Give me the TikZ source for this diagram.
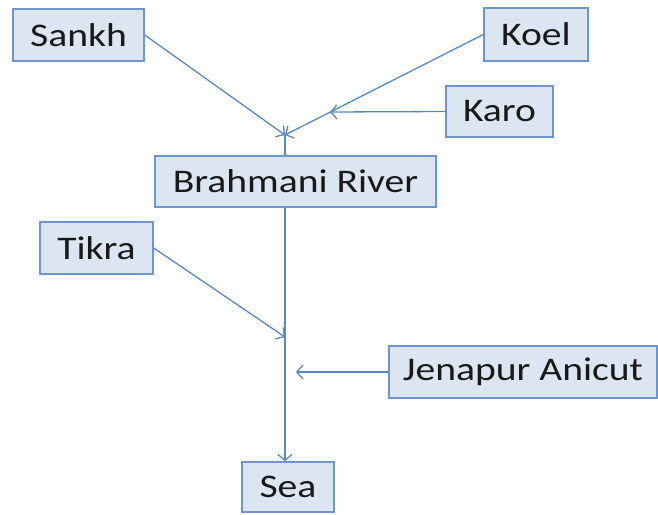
\documentclass[tikz,border=0pt]{standalone}
\usepackage{fontspec}
\setmainfont{Carlito}[FakeStretch=1.2]
\usetikzlibrary{arrows.meta}
\definecolor{boxfill}{RGB}{220,230,242}
\definecolor{boxline}{RGB}{110,150,205}
\definecolor{arrowc}{RGB}{90,135,195}
\begin{document}
\begin{tikzpicture}[x=1pt,y=-1pt,
  rbox/.style={draw=boxline,fill=boxfill,line width=1.5pt,inner sep=0pt,
    font=\fontsize{33}{36}\selectfont,text=black!90},
  flow/.style={draw=arrowc,line width=1.3pt},
  tip/.style={flow,-{Straight Barb[length=6pt,width=14pt,line width=1.3pt]}}]
\useasboundingbox (0,0) rectangle (658,514);
\fill[white] (0,0) rectangle (658,514);
\node[rbox,minimum width=131pt,minimum height=52pt] (sankh) at (78.5,35) {Sankh};
\node[rbox,minimum width=104pt,minimum height=53pt] (koel) at (536,34.5) {Koel};
\node[rbox,minimum width=107pt,minimum height=51pt] (karo) at (499.5,111.5) {Karo};
\node[rbox,minimum width=281pt,minimum height=51pt] (brahmani) at (295.5,181.5) {Brahmani River};
\node[rbox,minimum width=113pt,minimum height=52pt] (tikra) at (96.5,248) {Tikra};
\node[rbox,minimum width=268pt,minimum height=52pt] (jenapur) at (523,372) {Jenapur Anicut};
\node[rbox,minimum width=92pt,minimum height=50pt] (sea) at (288,487) {Sea};
\coordinate (j1) at (285,135);
\coordinate (k1) at (330,112);
\coordinate (j2) at (285,337);
\coordinate (j3) at (296,372);
\draw[tip] (sankh.east) -- (j1);
\draw[tip] (koel.west) -- (j1);
\draw[tip] (karo.west) -- (k1);
\draw[flow] (j1) -- (j1 |- brahmani.north);
\draw[tip] (j1 |- brahmani.south) -- (j1 |- sea.north);
\draw[tip] (tikra.east) -- (j2);
\draw[tip] (jenapur.west) -- (j3);
\end{tikzpicture}
\end{document}
